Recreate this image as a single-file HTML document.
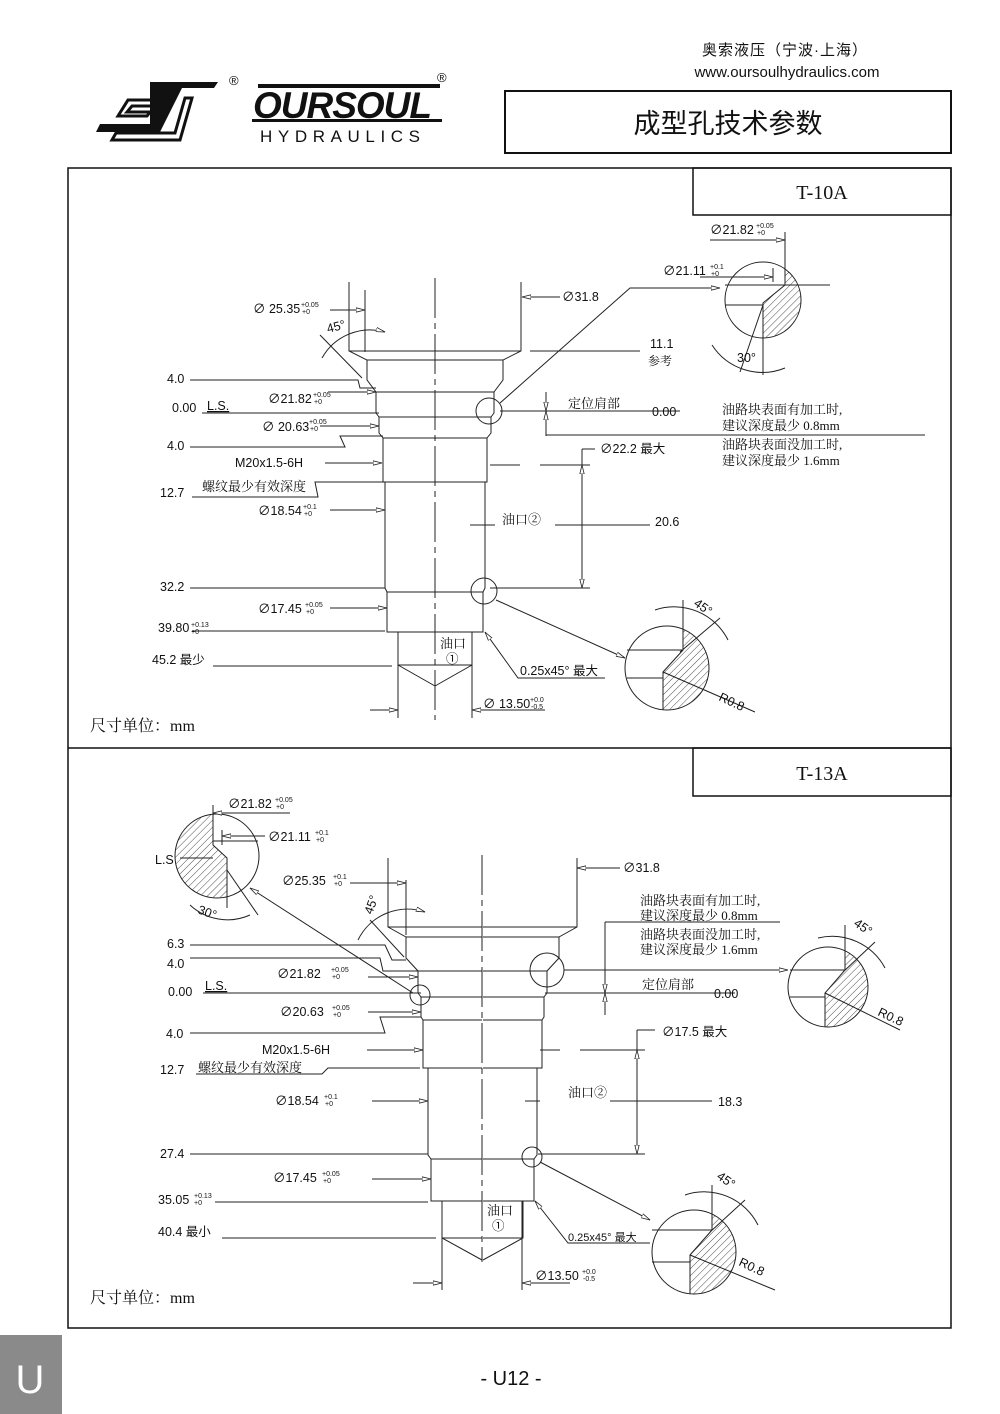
<!DOCTYPE html>
<html><head><meta charset="utf-8"><style>
body{margin:0;background:#fff}
svg{display:block}
text{font-family:"Liberation Sans","Noto Sans CJK SC",sans-serif;font-size:12.5px;fill:#111}
.cn{font-family:"Liberation Serif","Noto Serif CJK SC",serif;font-size:13px}
.s{font-size:7px}
</style></head><body>
<svg width="1000" height="1414" viewBox="0 0 1000 1414" xmlns="http://www.w3.org/2000/svg">
<defs>
<marker id="a" markerWidth="10" markerHeight="6" refX="9" refY="3" orient="auto" markerUnits="userSpaceOnUse"><path d="M0,0.8 L9,3 L0,5.2 Z" fill="#fff" stroke="#222" stroke-width="0.8"/></marker>
<pattern id="h" width="5" height="5" patternUnits="userSpaceOnUse" patternTransform="rotate(45)"><line x1="0" y1="0" x2="0" y2="5" stroke="#222" stroke-width="0.8"/></pattern>
<clipPath id="c1"><circle cx="763" cy="300" r="38"/></clipPath>
<clipPath id="c2"><circle cx="667" cy="668" r="42"/></clipPath>
<clipPath id="c3"><circle cx="217" cy="856" r="42"/></clipPath>
<clipPath id="c4"><circle cx="828" cy="987" r="40"/></clipPath>
<clipPath id="c5"><circle cx="694" cy="1252" r="42"/></clipPath>
</defs>
<!-- header -->
<text x="785" y="55" text-anchor="middle" style="font-size:15px;letter-spacing:1px">奥索液压（宁波·上海）</text>
<text x="787" y="77" text-anchor="middle" style="font-size:15px">www.oursoulhydraulics.com</text>
<rect x="505" y="91" width="446" height="62" fill="none" stroke="#111" stroke-width="2"/>
<text x="728" y="133" text-anchor="middle" style="font-size:27px;font-family:'Liberation Sans','Noto Sans CJK SC',sans-serif">成型孔技术参数</text>
<!-- logo -->
<g fill="#111">
<path d="M150,82 L218,82 L214,88 L182,88 L160,132 L96,132 L100,124 L150,124 Z"/>
<path d="M128,100 L156,100 L153,106 L132,106 L127,112 L150,112 L147,116 L118,116 Z" fill="none" stroke="#111" stroke-width="3"/>
<path d="M185,98 L192,98 L180,140 L112,140 L116,133 L175,133 Z" fill="none" stroke="#111" stroke-width="3"/>
</g>
<text x="229" y="85" style="font-size:13px">®</text>
<text x="437" y="82" style="font-size:13px">®</text>
<text x="253" y="118" style="font-size:37px;font-weight:bold;font-style:italic;letter-spacing:-1px">OURSOUL</text>
<rect x="258" y="84" width="182" height="4" fill="#111"/>
<rect x="252" y="119" width="190" height="3" fill="#111"/>
<text x="260" y="142" style="font-size:17px;letter-spacing:5.6px">HYDRAULICS</text>
<!-- frame -->
<rect x="68" y="168" width="883" height="1160" fill="none" stroke="#111" stroke-width="1.5"/>
<line x1="68" y1="748" x2="951" y2="748" stroke="#111" stroke-width="1.5"/>
<rect x="693" y="168" width="258" height="47" fill="none" stroke="#111" stroke-width="1.5"/>
<rect x="693" y="748" width="258" height="48" fill="none" stroke="#111" stroke-width="1.5"/>
<text x="822" y="199" text-anchor="middle" class="cn" style="font-size:20px">T-10A</text>
<text x="822" y="780" text-anchor="middle" class="cn" style="font-size:20px">T-13A</text>
<!-- footer -->
<rect x="0" y="1335" width="62" height="79" fill="#8a8a8a"/>
<text x="30" y="1393" text-anchor="middle" style="font-size:40px;fill:#fff">U</text>
<text x="511" y="1385" text-anchor="middle" style="font-size:20px">- U12 -</text>

<!-- hatches -->
<g stroke="none" fill="url(#h)">
<path clip-path="url(#c1)" d="M785,250 V285 L763,303 V345 H810 V250 Z"/>
<path clip-path="url(#c2)" d="M683,620 V650 L663,672 V715 H715 V620 Z"/>
<path clip-path="url(#c3)" d="M170,810 H213 V845 L227,858 V905 H170 Z"/>
<path clip-path="url(#c4)" d="M845,940 V970 L825,993 V1035 H875 V940 Z"/>
<path clip-path="url(#c5)" d="M712,1205 V1230 L690,1255 V1300 H740 V1205 Z"/>
</g>

<g stroke="#222" stroke-width="1" fill="none">
<!-- ===== TOP DRAWING ===== -->
<g id="tl">
<path d="M349,282 V351 L367,360 V380 L376,392 V413 L379,417 V433 L383,438 V482 H385 V588 L387,592 V632 H398 V665 L435,686"/>
<path d="M349,351 H435 M367,360 H435 M376,392 H435 M379,417 H435 M383,438 H435 M385,482 H435 M387,592 H435 M387,632 H435 M398,665 H435"/>
</g>
<use href="#tl" transform="translate(870,0) scale(-1,1)"/>
<line x1="435" y1="278" x2="435" y2="720" stroke-dasharray="40,5,6,5"/>
<line x1="398" y1="632" x2="398" y2="718"/><line x1="472" y1="632" x2="472" y2="718"/>
<line x1="370" y1="710" x2="398" y2="710" marker-end="url(#a)"/><line x1="545" y1="710" x2="472" y2="710" marker-end="url(#a)"/>
<line x1="365" y1="290" x2="365" y2="352"/>
<line x1="330" y1="310" x2="365" y2="310" marker-end="url(#a)"/>
<line x1="560" y1="297" x2="522" y2="297" marker-end="url(#a)"/>
<path d="M322,358 A55,55 0 0 1 385,332" marker-end="url(#a)"/>
<line x1="320" y1="335" x2="362" y2="378"/>
<line x1="530" y1="351" x2="640" y2="351"/>
<path d="M190,380 H358 L360,388 H376"/>
<line x1="328" y1="392" x2="376" y2="392" marker-end="url(#a)"/>
<line x1="202" y1="413" x2="379" y2="413"/>
<line x1="320" y1="426" x2="379" y2="426" marker-end="url(#a)"/>
<path d="M190,447 H345 L340,436 H383"/>
<line x1="325" y1="463" x2="382" y2="463" marker-end="url(#a)"/>
<path d="M192,497 H318 L315,482 H383"/>
<line x1="330" y1="510" x2="385" y2="510" marker-end="url(#a)"/>
<line x1="190" y1="588" x2="385" y2="588"/>
<line x1="330" y1="608" x2="387" y2="608" marker-end="url(#a)"/>
<line x1="192" y1="631" x2="385" y2="631"/>
<line x1="213" y1="666" x2="392" y2="666"/>
<path d="M605,678 H518 L485,632" marker-end="url(#a)"/>
<circle cx="489" cy="411" r="13"/><circle cx="484" cy="591" r="13"/>
<path d="M500,403 L630,288 H720" marker-end="url(#a)"/>
<line x1="496" y1="600" x2="625" y2="658" marker-end="url(#a)"/>
<line x1="500" y1="411" x2="680" y2="411"/>
<line x1="546" y1="392" x2="546" y2="411" marker-end="url(#a)"/>
<path d="M546,436 V411" marker-end="url(#a)"/>
<line x1="546" y1="435" x2="925" y2="435"/>
<line x1="470" y1="525" x2="495" y2="525"/><line x1="555" y1="525" x2="650" y2="525"/>
<line x1="490" y1="465" x2="520" y2="465"/><line x1="540" y1="465" x2="590" y2="465"/>
<line x1="490" y1="588" x2="590" y2="588"/>
<line x1="582" y1="465" x2="582" y2="449"/><line x1="582" y1="449" x2="595" y2="449"/>
<line x1="582" y1="525" x2="582" y2="465" marker-end="url(#a)"/><line x1="582" y1="525" x2="582" y2="588" marker-end="url(#a)"/>
<!-- top detail circle -->
<circle cx="763" cy="300" r="38"/>
<path d="M785,232 V285 L763,303 V338 M725,285 H830 M725,305 H763"/>
<line x1="710" y1="240" x2="785" y2="240" marker-end="url(#a)"/>
<line x1="773" y1="268" x2="773" y2="282"/><line x1="700" y1="277" x2="773" y2="277" marker-end="url(#a)"/>
<line x1="763" y1="305" x2="740" y2="372"/><line x1="763" y1="338" x2="763" y2="375"/>
<path d="M712,345 A60,60 0 0 0 785,368"/>
<!-- lower detail top -->
<circle cx="667" cy="668" r="42"/>
<path d="M683,600 V650 L663,672 V710 M627,650 H683 M627,678 H663 M680,652 L720,618 M663,672 L755,712"/>
<path d="M655,610 A60,60 0 0 1 728,640"/>
<!-- ===== BOTTOM DRAWING ===== -->
<g id="bl">
<path d="M388,858 V927 L406,937 V958 L418,971 V993 L421,997 V1017 L423,1020 V1068 H428 V1155 L431,1159 V1201 H442 V1238 L482,1260"/>
<path d="M388,927 H482 M406,937 H482 M418,971 H482 M421,997 H482 M423,1020 H482 M423,1068 H482 M431,1159 H482 M431,1201 H482 M442,1238 H482"/>
</g>
<use href="#bl" transform="translate(965,0) scale(-1,1)"/>
<line x1="482" y1="855" x2="482" y2="1262" stroke-dasharray="40,5,6,5"/>
<line x1="442" y1="1201" x2="442" y2="1290"/><line x1="522" y1="1201" x2="522" y2="1290"/>
<line x1="413" y1="1283" x2="442" y2="1283" marker-end="url(#a)"/><line x1="570" y1="1283" x2="522" y2="1283" marker-end="url(#a)"/>
<line x1="406" y1="880" x2="406" y2="935"/>
<line x1="350" y1="883" x2="406" y2="883" marker-end="url(#a)"/>
<line x1="620" y1="868" x2="577" y2="868" marker-end="url(#a)"/>
<path d="M358,940 A55,55 0 0 1 425,912" marker-end="url(#a)"/>
<line x1="370" y1="920" x2="404" y2="957"/>
<path d="M190,945 H385 L392,960 H406"/>
<path d="M190,958 H380 L383,971 H418"/>
<line x1="368" y1="977" x2="418" y2="977" marker-end="url(#a)"/>
<line x1="203" y1="993" x2="421" y2="993"/>
<line x1="368" y1="1012" x2="421" y2="1012" marker-end="url(#a)"/>
<path d="M190,1033 H385 L380,1017 H421"/>
<line x1="367" y1="1050" x2="423" y2="1050" marker-end="url(#a)"/>
<path d="M196,1074 H322 L328,1068 H420"/>
<line x1="372" y1="1101" x2="428" y2="1101" marker-end="url(#a)"/>
<line x1="190" y1="1154" x2="428" y2="1154"/>
<line x1="372" y1="1179" x2="431" y2="1179" marker-end="url(#a)"/>
<line x1="215" y1="1202" x2="428" y2="1202"/>
<line x1="222" y1="1238" x2="436" y2="1238"/>
<path d="M650,1243 H568 L535,1201" marker-end="url(#a)"/>
<circle cx="547" cy="970" r="17"/><circle cx="420" cy="995" r="10"/><circle cx="532" cy="1157" r="10"/>
<line x1="413" y1="993" x2="250" y2="888" marker-end="url(#a)"/>
<line x1="540" y1="1162" x2="650" y2="1220" marker-end="url(#a)"/>
<line x1="564" y1="970" x2="788" y2="970" marker-end="url(#a)"/>
<line x1="545" y1="993" x2="735" y2="993"/>
<line x1="605" y1="922" x2="780" y2="922"/>
<line x1="605" y1="922" x2="605" y2="993" marker-end="url(#a)"/>
<path d="M605,1015 V993" marker-end="url(#a)"/>
<line x1="540" y1="1050" x2="560" y2="1050"/><line x1="580" y1="1050" x2="645" y2="1050"/>
<line x1="525" y1="1101" x2="540" y2="1101"/><line x1="610" y1="1101" x2="712" y2="1101"/>
<line x1="538" y1="1154" x2="645" y2="1154"/>
<line x1="637" y1="1050" x2="637" y2="1030"/><line x1="637" y1="1030" x2="655" y2="1030"/>
<line x1="637" y1="1101" x2="637" y2="1050" marker-end="url(#a)"/><line x1="637" y1="1101" x2="637" y2="1154" marker-end="url(#a)"/>
<!-- detail top-left -->
<circle cx="217" cy="856" r="42"/>
<path d="M213,805 V845 L227,858 V908 M213,841 H258 M222,830 V845 M227,870 L258,915 M180,858 H213"/>
<line x1="290" y1="813" x2="213" y2="813" marker-end="url(#a)"/>
<line x1="265" y1="836" x2="222" y2="836" marker-end="url(#a)"/>
<path d="M190,905 A55,55 0 0 0 250,915"/>
<!-- detail right -->
<circle cx="828" cy="987" r="40"/>
<path d="M845,925 V970 L825,993 V1027 M790,970 H845 M790,997 H825 M843,972 L875,942 M825,993 L900,1030"/>
<path d="M818,938 A60,60 0 0 1 885,968"/>
<!-- detail bottom -->
<circle cx="694" cy="1252" r="42"/>
<path d="M712,1185 V1230 L690,1255 V1294 M652,1230 H712 M652,1262 H690 M710,1232 L745,1200 M690,1255 L775,1290"/>
<path d="M685,1195 A60,60 0 0 1 758,1225"/>
</g>

<!-- TOP text -->
<text x="253" y="313">∅ 25.35</text><text x="301" y="307" class="s">+0.05</text><text x="302" y="314" class="s">+0</text>
<text x="328" y="333" transform="rotate(-15 328 333)">45°</text>
<text x="562" y="301">∅31.8</text>
<text x="650" y="348">11.1</text><text x="648" y="365" class="cn" style="font-size:12px">参考</text>
<text x="167" y="383">4.0</text>
<text x="268" y="403">∅21.82</text><text x="313" y="397" class="s">+0.05</text><text x="314" y="404" class="s">+0</text>
<text x="172" y="412">0.00</text><text x="207" y="410" style="text-decoration:underline">L.S.</text>
<text x="262" y="431">∅ 20.63</text><text x="309" y="424" class="s">+0.05</text><text x="310" y="431" class="s">+0</text>
<text x="167" y="450">4.0</text>
<text x="235" y="467">M20x1.5-6H</text>
<text x="160" y="497">12.7</text><text x="202" y="491" class="cn">螺纹最少有效深度</text>
<text x="258" y="515">∅18.54</text><text x="303" y="509" class="s">+0.1</text><text x="304" y="516" class="s">+0</text>
<text x="160" y="591">32.2</text>
<text x="258" y="613">∅17.45</text><text x="305" y="607" class="s">+0.05</text><text x="306" y="614" class="s">+0</text>
<text x="158" y="632">39.80</text><text x="191" y="627" class="s">+0.13</text><text x="191" y="634" class="s">+0</text>
<text x="152" y="664">45.2 最少</text>
<text x="440" y="648" class="cn">油口</text><text x="446" y="663">①</text>
<text x="520" y="675">0.25x45° 最大</text>
<text x="483" y="708">∅ 13.50</text><text x="530" y="702" class="s">+0.0</text><text x="531" y="709" class="s">-0.5</text>
<text x="90" y="731" class="cn" style="font-size:16px">尺寸单位：mm</text>
<text x="502" y="524" class="cn">油口②</text><text x="655" y="526">20.6</text>
<text x="600" y="453">∅22.2 最大</text>
<text x="568" y="408" class="cn">定位肩部</text><text x="652" y="416">0.00</text>
<text x="722" y="414" class="cn">油路块表面有加工时,</text>
<text x="722" y="430" class="cn">建议深度最少 0.8mm</text>
<text x="722" y="449" class="cn">油路块表面没加工时,</text>
<text x="722" y="465" class="cn">建议深度最少 1.6mm</text>
<text x="710" y="234">∅21.82</text><text x="756" y="228" class="s">+0.05</text><text x="757" y="235" class="s">+0</text>
<text x="663" y="275">∅21.11</text><text x="710" y="269" class="s">+0.1</text><text x="711" y="276" class="s">+0</text>
<text x="737" y="362">30°</text>
<text x="693" y="605" transform="rotate(35 693 605)">45°</text>
<text x="718" y="700" transform="rotate(25 718 700)">R0.8</text>
<!-- BOTTOM text -->
<text x="228" y="808">∅21.82</text><text x="275" y="802" class="s">+0.05</text><text x="276" y="809" class="s">+0</text>
<text x="268" y="841">∅21.11</text><text x="315" y="835" class="s">+0.1</text><text x="316" y="842" class="s">+0</text>
<text x="155" y="864">L.S</text>
<text x="197" y="913" transform="rotate(20 197 913)">30°</text>
<text x="282" y="885">∅25.35</text><text x="333" y="879" class="s">+0.1</text><text x="334" y="886" class="s">+0</text>
<text x="372" y="915" transform="rotate(-70 372 915)">45°</text>
<text x="623" y="872">∅31.8</text>
<text x="167" y="948">6.3</text><text x="167" y="968">4.0</text>
<text x="277" y="978">∅21.82</text><text x="331" y="972" class="s">+0.05</text><text x="332" y="979" class="s">+0</text>
<text x="168" y="996">0.00</text><text x="205" y="990" style="text-decoration:underline">L.S.</text>
<text x="280" y="1016">∅20.63</text><text x="332" y="1010" class="s">+0.05</text><text x="333" y="1017" class="s">+0</text>
<text x="166" y="1038">4.0</text>
<text x="262" y="1054">M20x1.5-6H</text>
<text x="160" y="1074">12.7</text><text x="198" y="1072" class="cn">螺纹最少有效深度</text>
<text x="275" y="1105">∅18.54</text><text x="324" y="1099" class="s">+0.1</text><text x="325" y="1106" class="s">+0</text>
<text x="160" y="1158">27.4</text>
<text x="273" y="1182">∅17.45</text><text x="322" y="1176" class="s">+0.05</text><text x="323" y="1183" class="s">+0</text>
<text x="158" y="1204">35.05</text><text x="194" y="1198" class="s">+0.13</text><text x="194" y="1205" class="s">+0</text>
<text x="158" y="1236">40.4 最小</text>
<text x="487" y="1215" class="cn">油口</text><text x="492" y="1230">①</text>
<text x="568" y="1241" style="font-size:11px">0.25x45° 最大</text>
<text x="535" y="1280">∅13.50</text><text x="582" y="1274" class="s">+0.0</text><text x="583" y="1281" class="s">-0.5</text>
<text x="90" y="1303" class="cn" style="font-size:16px">尺寸单位：mm</text>
<text x="568" y="1097" class="cn">油口②</text><text x="718" y="1106">18.3</text>
<text x="662" y="1036">∅17.5 最大</text>
<text x="642" y="989" class="cn">定位肩部</text><text x="714" y="998">0.00</text>
<text x="640" y="905" class="cn">油路块表面有加工时,</text>
<text x="640" y="920" class="cn">建议深度最少 0.8mm</text>
<text x="640" y="939" class="cn">油路块表面没加工时,</text>
<text x="640" y="954" class="cn">建议深度最少 1.6mm</text>
<text x="853" y="925" transform="rotate(35 853 925)">45°</text>
<text x="877" y="1015" transform="rotate(25 877 1015)">R0.8</text>
<text x="716" y="1178" transform="rotate(35 716 1178)">45°</text>
<text x="738" y="1265" transform="rotate(25 738 1265)">R0.8</text>
</svg>
</body></html>
